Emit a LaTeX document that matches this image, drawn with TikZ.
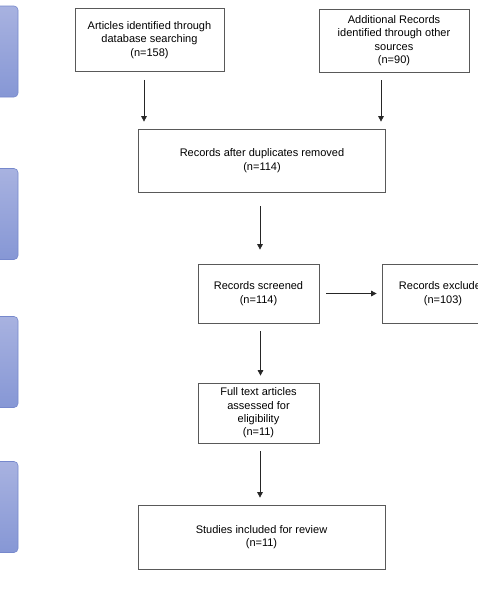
\documentclass[tikz,border=0pt]{standalone}
\usepackage{fontspec}
\setmainfont{Liberation Sans}
\usetikzlibrary{arrows.meta,positioning}
\definecolor{phasetop}{RGB}{168,178,224}
\definecolor{phasebot}{RGB}{134,151,213}
\definecolor{phaseline}{RGB}{118,136,204}
\tikzset{
  box/.style={rectangle, draw=black!65, line width=0.7pt, align=center, font=\fontsize{11}{13.4}\selectfont, inner sep=2pt},
  arrow/.style={-{Triangle[length=5.5pt,width=5.5pt]}, line width=0.7pt, black!85, shorten <=8pt, shorten >=7pt},
  phase/.style={rectangle, rounded corners=4pt, draw=phaseline, line width=0.6pt, top color=phasetop, bottom color=phasebot, minimum width=98pt, minimum height=91pt}
}

\begin{document}
\begin{tikzpicture}[x=1pt, y=-1pt]
  \useasboundingbox (0,0) rectangle (478,595);
  % phase bars on the left
  \node[phase] (ident) at (-31,51.5) {};
  \node[phase] (screen) at (-31,214) {};
  \node[phase] (elig) at (-31,362) {};
  \node[phase] (incl) at (-31,507) {};
  % boxes
  \node[box, minimum width=149pt, minimum height=63pt] (dbsearch) at (149.5,40) {Articles identified through\\database searching\\(n=158)};
  \node[box, minimum width=150pt, minimum height=63pt] (other) at (394,40.5) {Additional Records\\identified through other\\sources\\(n=90)};
  \node[box, minimum width=247pt, minimum height=63pt] (dedup) at (262,160.5) {Records after duplicates removed\\(n=114)};
  \node[box, minimum width=121pt, minimum height=59pt] (screened) at (258.5,293.5) {Records screened\\(n=114)};
  \node[box, minimum width=122pt, minimum height=59pt] (excluded) at (443,293.5) {Records excluded\\(n=103)};
  \node[box, minimum width=121pt, minimum height=60pt] (fulltext) at (258.5,413) {Full text articles\\assessed for\\eligibility\\(n=11)};
  \node[box, minimum width=247pt, minimum height=64pt] (included) at (261.5,537) {Studies included for review\\(n=11)};
  % arrows
  \draw[arrow] ([xshift=-5.5pt]dbsearch.south) -- ([xshift=-5.5pt]dbsearch.south |- dedup.north);
  \draw[arrow] ([xshift=-13pt]other.south) -- ([xshift=-13pt]other.south |- dedup.north);
  \draw[arrow, shorten <=14pt, shorten >=14pt] ([xshift=-2pt]dedup.south) -- ([xshift=-2pt]dedup.south |- screened.north);
  \draw[arrow, shorten <=7pt, shorten >=5pt] (screened.east) -- (excluded.west);
  \draw[arrow] ([xshift=2pt]screened.south) -- ([xshift=2pt]screened.south |- fulltext.north);
  \draw[arrow] ([xshift=1.5pt]fulltext.south) -- ([xshift=1.5pt]fulltext.south |- included.north);
\end{tikzpicture}
\end{document}
